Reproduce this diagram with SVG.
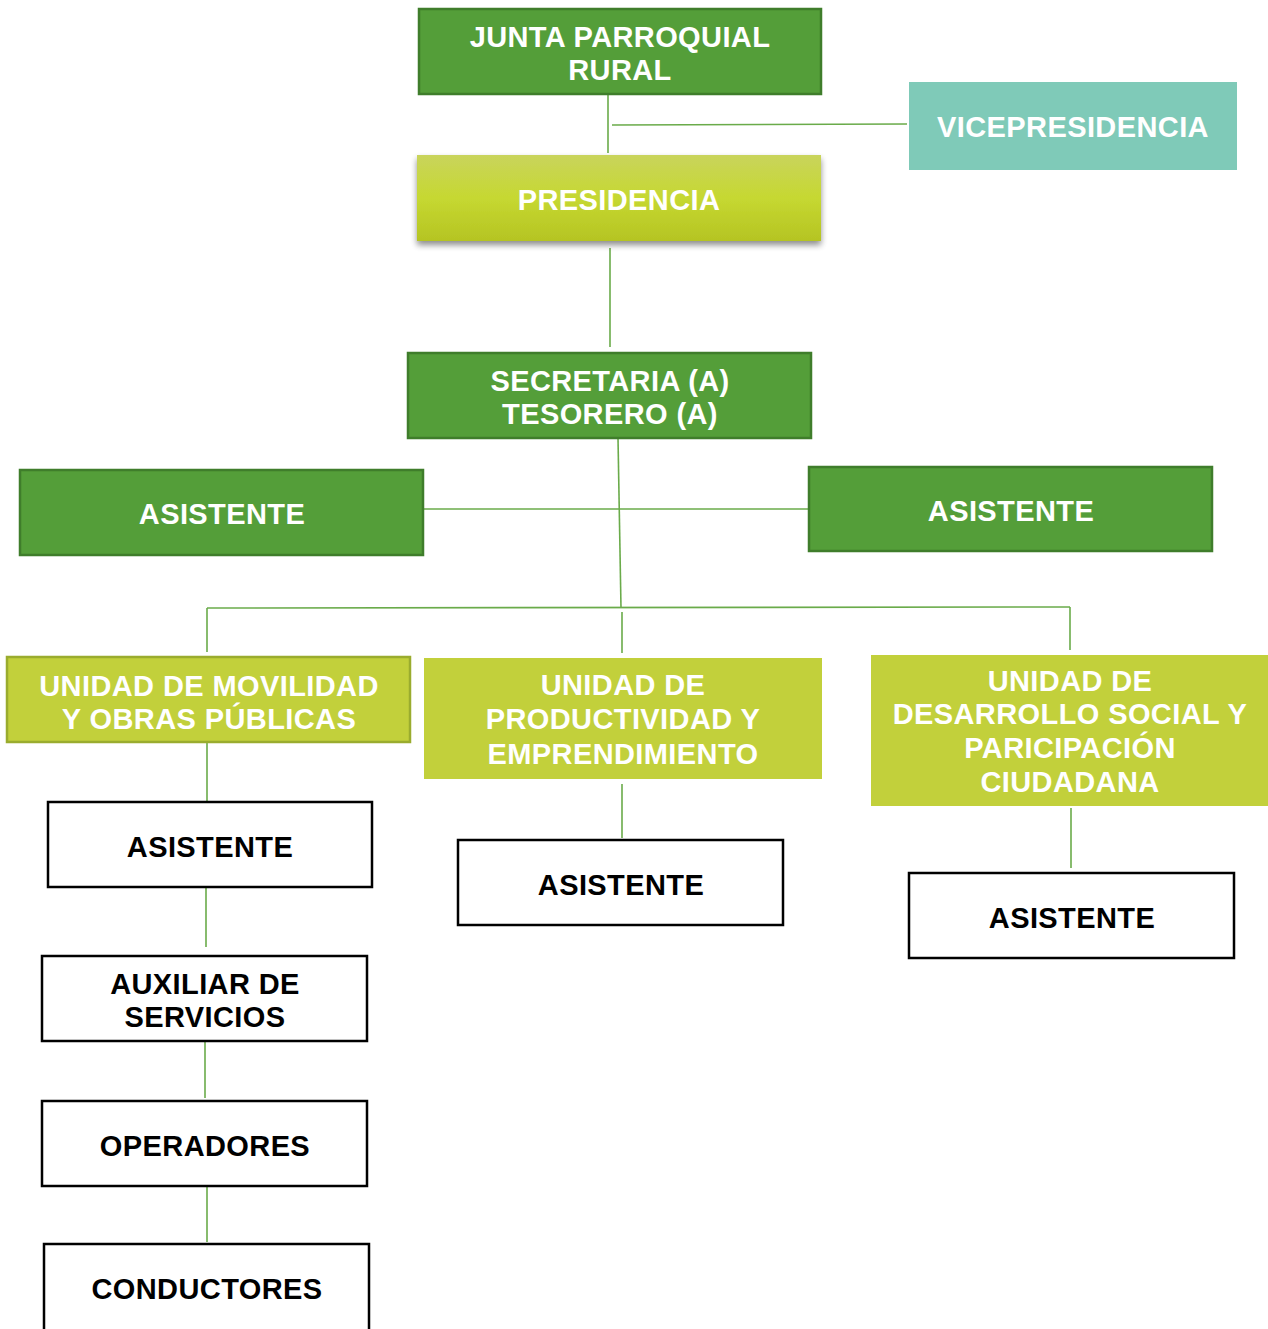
<svg xmlns="http://www.w3.org/2000/svg" width="1268" height="1329" viewBox="0 0 1268 1329">
<style>
text{font-family:"Liberation Sans",Arial,sans-serif;font-weight:bold;font-size:29px;letter-spacing:0.4px;text-anchor:middle}
.w{fill:#ffffff}
.k{fill:#000000}
.dg{fill:#549e39;stroke:#3f7d2b;stroke-width:2.5}
.lg{fill:#c2d03b}
.lgs{fill:#c2d03b;stroke:#9aac2e;stroke-width:2.5}
.wb{fill:#ffffff;stroke:#000000;stroke-width:2.5}
.c{stroke:#6aab4a;stroke-width:1.6;fill:none}
</style>
<defs>
<linearGradient id="pg" x1="0" y1="0" x2="0" y2="1">
<stop offset="0" stop-color="#c9d45c"/>
<stop offset="0.5" stop-color="#c6d831"/>
<stop offset="1" stop-color="#b5c423"/>
</linearGradient>
<filter id="sh" x="-10%" y="-20%" width="120%" height="150%">
<feGaussianBlur in="SourceAlpha" stdDeviation="3"/>
<feOffset dx="0" dy="4" result="b"/>
<feComponentTransfer><feFuncA type="linear" slope="0.45"/></feComponentTransfer>
<feMerge><feMergeNode/><feMergeNode in="SourceGraphic"/></feMerge>
</filter>
</defs>
<rect width="1268" height="1329" fill="#ffffff"/>
<g id="connectors">
<line class="c" x1="608" y1="94" x2="608" y2="153"/>
<line class="c" x1="612" y1="125" x2="907" y2="124"/>
<line class="c" x1="610" y1="248" x2="610" y2="347"/>
<line class="c" x1="618" y1="438" x2="621" y2="608"/>
<line class="c" x1="622" y1="612" x2="622" y2="653"/>
<line class="c" x1="423" y1="509" x2="809" y2="509"/>
<line class="c" x1="207" y1="608" x2="1070" y2="607"/>
<line class="c" x1="207" y1="608" x2="207" y2="652"/>
<line class="c" x1="1070" y1="607" x2="1070" y2="650"/>
<line class="c" x1="207" y1="742" x2="207" y2="802"/>
<line class="c" x1="622" y1="784" x2="622" y2="838"/>
<line class="c" x1="1071" y1="808" x2="1071" y2="868"/>
<line class="c" x1="206" y1="887" x2="206" y2="947"/>
<line class="c" x1="205" y1="1041" x2="205" y2="1098"/>
<line class="c" x1="207" y1="1182" x2="207" y2="1242"/>
</g>
<g id="junta">
<rect class="dg" x="419" y="9" width="402" height="85"/>
<text class="w" x="620" y="47">JUNTA PARROQUIAL</text>
<text class="w" x="620" y="80">RURAL</text>
</g>
<g id="vicepresidencia">
<rect x="909" y="82" width="328" height="88" fill="#7fcab8"/>
<text class="w" x="1073" y="137">VICEPRESIDENCIA</text>
</g>
<g id="presidencia">
<rect x="417" y="155" width="404" height="86" fill="url(#pg)" filter="url(#sh)"/>
<text class="w" x="619" y="210">PRESIDENCIA</text>
</g>
<g id="secretaria">
<rect class="dg" x="408" y="353" width="403" height="85"/>
<text class="w" x="610" y="391">SECRETARIA (A)</text>
<text class="w" x="610" y="424">TESORERO (A)</text>
</g>
<g id="asistente-izq">
<rect class="dg" x="20" y="470" width="403" height="85"/>
<text class="w" x="222" y="524">ASISTENTE</text>
</g>
<g id="asistente-der">
<rect class="dg" x="809" y="467" width="403" height="84"/>
<text class="w" x="1011" y="521">ASISTENTE</text>
</g>
<g id="unidad-movilidad">
<rect class="lgs" x="7" y="657" width="403" height="85"/>
<text class="w" x="209" y="696">UNIDAD DE MOVILIDAD</text>
<text class="w" x="209" y="729">Y OBRAS PÚBLICAS</text>
</g>
<g id="unidad-productividad">
<rect class="lg" x="424" y="658" width="398" height="121"/>
<text class="w" x="623" y="695">UNIDAD DE</text>
<text class="w" x="623" y="729">PRODUCTIVIDAD Y</text>
<text class="w" x="623" y="764">EMPRENDIMIENTO</text>
</g>
<g id="unidad-desarrollo">
<rect class="lg" x="871" y="655" width="397" height="151"/>
<text class="w" x="1070" y="691">UNIDAD DE</text>
<text class="w" x="1070" y="724">DESARROLLO SOCIAL Y</text>
<text class="w" x="1070" y="758">PARICIPACIÓN</text>
<text class="w" x="1070" y="792">CIUDADANA</text>
</g>
<g id="asistente-movilidad">
<rect class="wb" x="48" y="802" width="324" height="85"/>
<text class="k" x="210" y="857">ASISTENTE</text>
</g>
<g id="asistente-productividad">
<rect class="wb" x="458" y="840" width="325" height="85"/>
<text class="k" x="621" y="895">ASISTENTE</text>
</g>
<g id="asistente-desarrollo">
<rect class="wb" x="909" y="873" width="325" height="85"/>
<text class="k" x="1072" y="928">ASISTENTE</text>
</g>
<g id="auxiliar">
<rect class="wb" x="42" y="956" width="325" height="85"/>
<text class="k" x="205" y="994">AUXILIAR DE</text>
<text class="k" x="205" y="1027">SERVICIOS</text>
</g>
<g id="operadores">
<rect class="wb" x="42" y="1101" width="325" height="85"/>
<text class="k" x="205" y="1156">OPERADORES</text>
</g>
<g id="conductores">
<rect class="wb" x="44" y="1244" width="325" height="90"/>
<text class="k" x="207" y="1299">CONDUCTORES</text>
</g>
</svg>
